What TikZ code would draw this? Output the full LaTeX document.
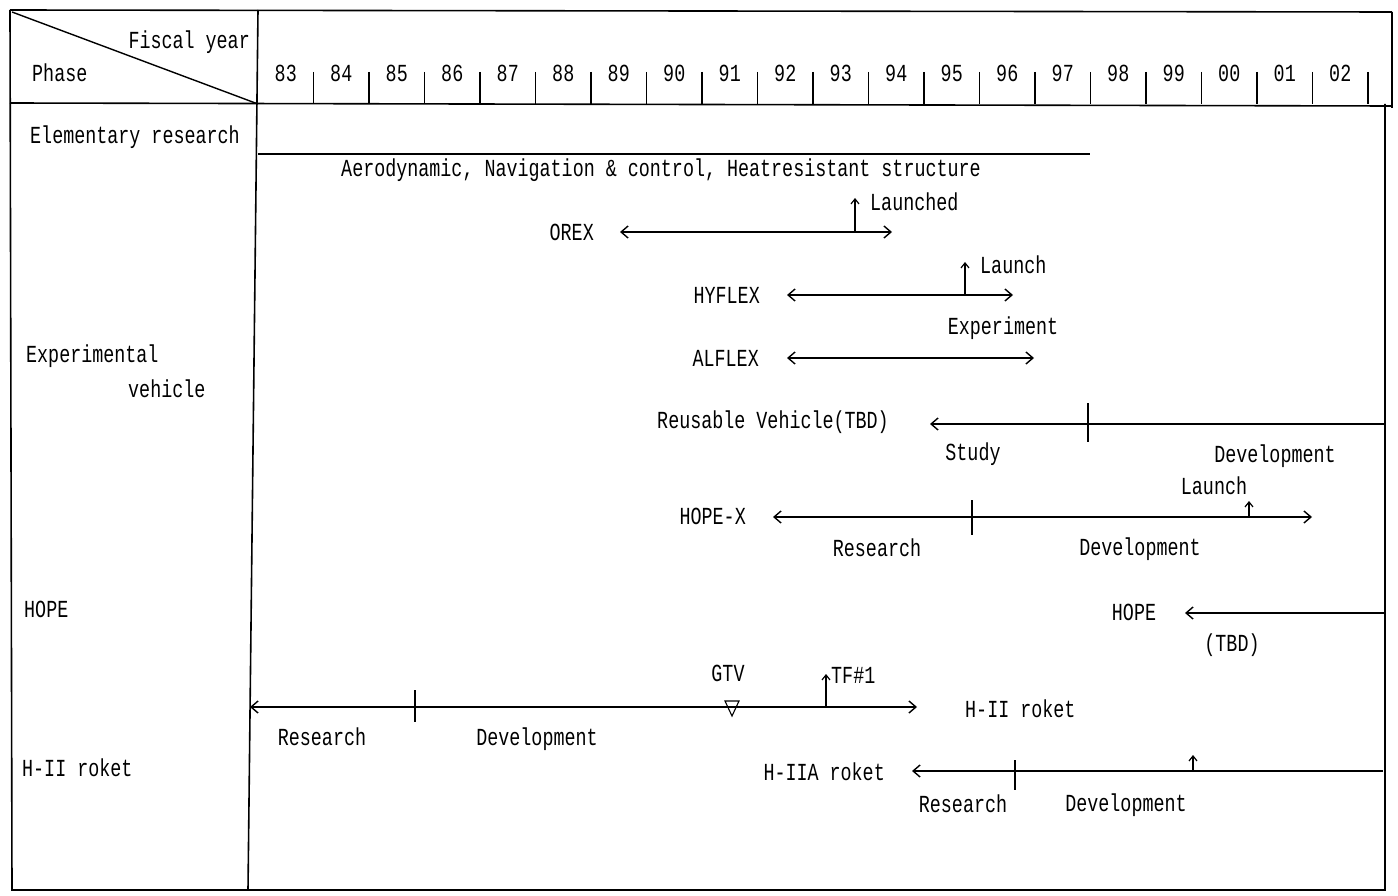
\documentclass[tikz,border=0pt]{standalone}
\usepackage{fontspec}
\newfontfamily\tw{Liberation Mono}[FakeStretch=0.75]
\usetikzlibrary{arrows.meta}
\begin{document}
\begin{tikzpicture}[x=1pt,y=-1pt,
  lbl/.style={font=\tw\fontsize{24.5}{26}\selectfont, inner sep=0pt, anchor=center},
  frame/.style={line width=1.6pt},
  bar/.style={line width=1.4pt},
  tick/.style={line width=1.2pt},
  both/.style={bar,{Straight Barb[length=7pt,width=12pt]}-{Straight Barb[length=7pt,width=12pt]}},
  toleft/.style={bar,-{Straight Barb[length=7pt,width=12pt]}},
  up/.style={line width=1.2pt,-{Straight Barb[length=5pt,width=8pt]}}]
\useasboundingbox (0,0) rectangle (1398,896);
\fill[white] (0,0) rectangle (1398,896);
% frame
\draw[frame] (10,10) -- (1392,12);
\draw[frame] (10,10) -- (12,890) -- (1385,890) -- (1385,104);
\draw[frame] (1392,12) -- (1392,108);
\draw[frame] (10,103) -- (1392,106);
\draw[frame] (258,10) -- (248,890);
\draw[line width=1.4pt] (12,12) -- (258,104);
% header
\node[lbl,anchor=east] (fy) at (250,42) {Fiscal year};
\node[lbl,anchor=west] (ph) at (32,73) {Phase};
\foreach \y [count=\i from 0] in {83,84,85,86,87,88,89,90,91,92,93,94,95,96,97,98,99,00,01,02}{
  \node[lbl] (yr\i) at ({258+55.5*(\i+0.5)},73) {\y};
  \draw[tick] ({258+55.5*(\i+1)},72) -- ({258+55.5*(\i+1)},104);
}
% left labels
\node[lbl,anchor=west] (er) at (30,137) {Elementary research};
\node[lbl,anchor=west] (ev1) at (26,356) {Experimental};
\node[lbl,anchor=west] (ev2) at (128,389) {vehicle};
\node[lbl,anchor=west] (hopeL) at (24,609) {HOPE};
\node[lbl,anchor=west] (h2L) at (22,768) {H-II roket};
% elementary research
\coordinate (erA) at (258,154); \coordinate (erB) at (1090,154);
\draw[bar] (erA) -- (erB);
\node[lbl] (ert) at (661,170) {Aerodynamic, Navigation \& control, Heatresistant structure};
% OREX
\node[lbl,anchor=east] (orex) at (594,232) {OREX};
\coordinate (orA) at (620,232); \coordinate (orB) at (892,232);
\draw[both] (orA) -- (orB);
\coordinate (orL0) at (855,232); \coordinate (orL1) at (855,198);
\draw[up] (orL0) -- (orL1);
\node[lbl,anchor=west] (orexl) at (870,202) {Launched};
% HYFLEX
\node[lbl,anchor=east] (hyf) at (760,295) {HYFLEX};
\coordinate (hyA) at (787,295); \coordinate (hyB) at (1013,295);
\draw[both] (hyA) -- (hyB);
\coordinate (hyL0) at (965,295); \coordinate (hyL1) at (965,262);
\draw[up] (hyL0) -- (hyL1);
\node[lbl,anchor=west] (hyl) at (980,265) {Launch};
\node[lbl] (hye) at (1003,328) {Experiment};
% ALFLEX
\node[lbl,anchor=east] (alf) at (759,358) {ALFLEX};
\coordinate (alA) at (787,358); \coordinate (alB) at (1034,358);
\draw[both] (alA) -- (alB);
% Reusable vehicle
\node[lbl,anchor=east] (rv) at (889,422) {Reusable Vehicle(TBD)};
\coordinate (rvA) at (1385,424); \coordinate (rvB) at (930,424);
\draw[toleft] (rvA) -- (rvB);
\coordinate (rvT0) at (1088,403); \coordinate (rvT1) at (1088,442);
\draw[tick] (rvT0) -- (rvT1);
\node[lbl] (rvs) at (973,454) {Study};
\node[lbl] (rvd) at (1275,456) {Development};
% HOPE-X
\node[lbl,anchor=east] (hx) at (746,516) {HOPE-X};
\coordinate (hxA) at (773,517); \coordinate (hxB) at (1312,517);
\draw[both] (hxA) -- (hxB);
\coordinate (hxT0) at (972,500); \coordinate (hxT1) at (972,535);
\draw[tick] (hxT0) -- (hxT1);
\coordinate (hxL0) at (1249,517); \coordinate (hxL1) at (1249,501);
\draw[up] (hxL0) -- (hxL1);
\node[lbl] (hxl) at (1214,486) {Launch};
\node[lbl] (hxr) at (877,548) {Research};
\node[lbl] (hxd) at (1140,549) {Development};
% HOPE
\node[lbl] (hope) at (1134,612) {HOPE};
\coordinate (hoA) at (1385,613); \coordinate (hoB) at (1185,613);
\draw[toleft] (hoA) -- (hoB);
\node[lbl] (hot) at (1232,645) {(TBD)};
% H-II
\coordinate (h2A) at (250,707); \coordinate (h2B) at (917,707);
\draw[both] (h2A) -- (h2B);
\coordinate (h2T0) at (415,690); \coordinate (h2T1) at (415,722);
\draw[tick] (h2T0) -- (h2T1);
\node[lbl] (gtv) at (728,673) {GTV};
\draw[line width=1.1pt] (725,701) -- (739,701) -- (732,716) -- cycle;
\coordinate (tfA) at (826,707); \coordinate (tfB) at (826,674);
\draw[up] (tfA) -- (tfB);
\node[lbl,anchor=west] (tf) at (831,675) {TF\#1};
\node[lbl,anchor=west] (h2) at (965,709) {H-II roket};
\node[lbl] (h2r) at (322,737) {Research};
\node[lbl] (h2d) at (537,739) {Development};
% H-IIA
\node[lbl,anchor=east] (h2a) at (885,772) {H-IIA roket};
\coordinate (haA) at (1383,771); \coordinate (haB) at (912,771);
\draw[toleft] (haA) -- (haB);
\coordinate (haT0) at (1015,760); \coordinate (haT1) at (1015,790);
\draw[tick] (haT0) -- (haT1);
\coordinate (haL0) at (1193,771); \coordinate (haL1) at (1193,755);
\draw[up] (haL0) -- (haL1);
\node[lbl] (har) at (963,804) {Research};
\node[lbl] (had) at (1126,805) {Development};
\end{tikzpicture}
\end{document}
